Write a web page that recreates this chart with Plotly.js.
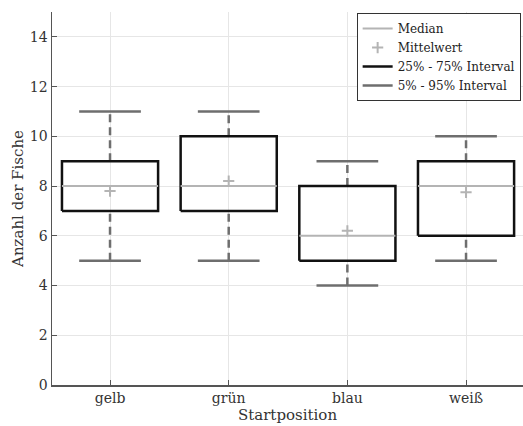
<!DOCTYPE html>
<html>
<head>
<meta charset="utf-8">
<script src="https://cdn.plot.ly/plotly-3.0.1.min.js"></script>
<style>html,body{margin:0;padding:0;background:#fff;}#chart{width:523px;height:426px;}</style>
</head>
<body>
<div id="chart"></div>
<script>
const categories = ["gelb", "grün", "blau", "weiß"];
const q1 = [7, 7, 5, 6];
const q3 = [9, 10, 8, 9];
const medians = [8, 8, 6, 8];
const means = [7.8, 8.2, 6.2, 7.75];
const lowP5 = [5, 5, 4, 5];
const highP95 = [11, 11, 9, 10];
const yTicks = [0, 2, 4, 6, 8, 10, 12, 14];

const pos = categories.map((c, i) => i + 1);
const boxHalf = 0.405;
const capHalf = 0.26;

function segs(fn) {
  const xs = [], ys = [];
  pos.forEach((p, i) => {
    const s = fn(p, i);
    s.forEach(pt => { xs.push(pt[0]); ys.push(pt[1]); });
    xs.push(null); ys.push(null);
  });
  return {x: xs, y: ys};
}

const boxes = segs((p, i) => [[p - boxHalf, q1[i]], [p + boxHalf, q1[i]], [p + boxHalf, q3[i]], [p - boxHalf, q3[i]], [p - boxHalf, q1[i]]]);
const med = segs((p, i) => [[p - boxHalf, medians[i]], [p + boxHalf, medians[i]]]);
const whiskUp = segs((p, i) => [[p, q3[i]], [p, highP95[i]]]);
const whiskLo = segs((p, i) => [[p, lowP5[i]], [p, q1[i]]]);
const capsHi = segs((p, i) => [[p - capHalf, highP95[i]], [p + capHalf, highP95[i]]]);
const capsLo = segs((p, i) => [[p - capHalf, lowP5[i]], [p + capHalf, lowP5[i]]]);

const whiskGrey = '#6e6e6e';
const traces = [
  {x: whiskUp.x, y: whiskUp.y, mode: 'lines', line: {color: whiskGrey, width: 2.5, dash: '8px,5px'}, showlegend: false, hoverinfo: 'skip'},
  {x: whiskLo.x, y: whiskLo.y, mode: 'lines', line: {color: whiskGrey, width: 2.5, dash: '8px,5px'}, showlegend: false, hoverinfo: 'skip'},
  {x: capsLo.x, y: capsLo.y, mode: 'lines', line: {color: whiskGrey, width: 2.5}, showlegend: false, hoverinfo: 'skip'},
  {x: capsHi.x, y: capsHi.y, mode: 'lines', name: '5% - 95% Interval', line: {color: whiskGrey, width: 2.5}, legendrank: 4},
  {x: boxes.x, y: boxes.y, mode: 'lines', name: '25% - 75% Interval', line: {color: '#111111', width: 2.5}, legendrank: 3},
  {x: med.x, y: med.y, mode: 'lines', name: 'Median', line: {color: '#b4b4b4', width: 2}, legendrank: 1},
  {x: pos, y: means, mode: 'markers', name: 'Mittelwert', marker: {symbol: 'cross-thin', size: 8, line: {color: '#b4b4b4', width: 2}, color: '#b4b4b4'}, legendrank: 2}
];

const fam = "'DejaVu Serif', serif";
const font = {family: fam, size: 14, color: '#333333'};
const layout = {
  width: 523, height: 426,
  margin: {l: 52, r: 0, t: 12, b: 41},
  paper_bgcolor: '#ffffff', plot_bgcolor: '#ffffff',
  font: font,
  showlegend: true,
  legend: {x: 0.995, y: 0.997, xanchor: 'right', yanchor: 'top', bordercolor: '#333333', borderwidth: 1, bgcolor: '#ffffff',
           font: {family: fam, size: 12, color: '#222222'}, itemwidth: 30, tracegroupgap: 0, traceorder: 'normal'},
  xaxis: {
    range: [0.511, 4.48], tickvals: pos, ticktext: categories, ticks: 'inside', ticklen: 5, tickcolor: '#555',
    showgrid: true, gridcolor: '#e6e6e6', gridwidth: 1, zeroline: false,
    showline: true, linecolor: '#555555', linewidth: 1.5, mirror: false,
    title: {text: 'Startposition', font: {family: fam, size: 15, color: '#333333'}, standoff: 4},
    tickfont: {family: fam, size: 14, color: '#333333'}
  },
  yaxis: {
    range: [0, 15], tickvals: yTicks, ticks: 'inside', ticklen: 5, tickcolor: '#555',
    showgrid: true, gridcolor: '#e6e6e6', gridwidth: 1, zeroline: false,
    showline: true, linecolor: '#555555', linewidth: 1.5, mirror: false,
    title: {text: 'Anzahl der Fische', font: {family: fam, size: 15, color: '#333333'}, standoff: 2},
    tickfont: {family: fam, size: 14, color: '#333333'}
  }
};

Plotly.newPlot('chart', traces, layout, {displayModeBar: false, staticPlot: true});
</script>
</body>
</html>
